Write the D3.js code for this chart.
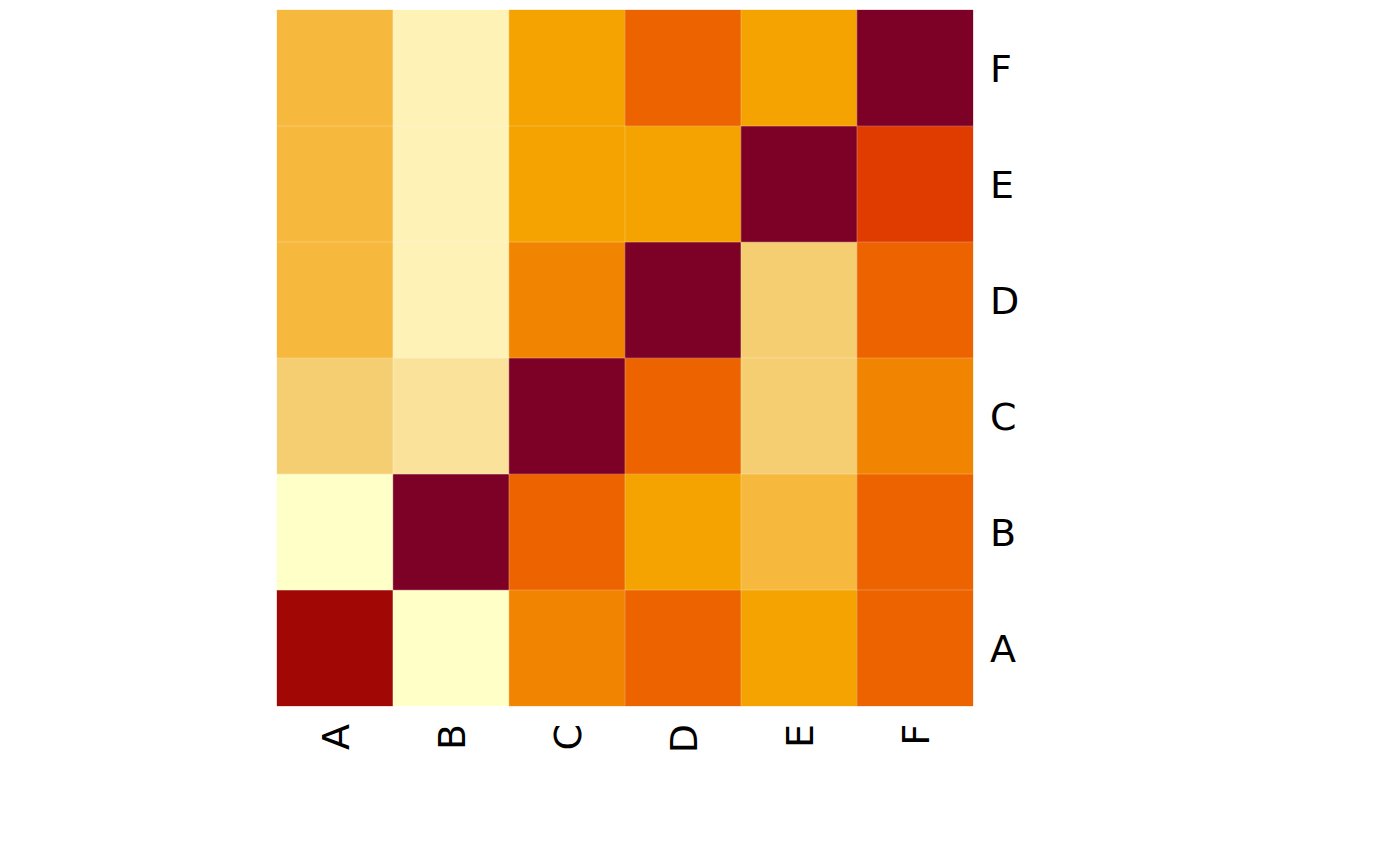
<!DOCTYPE html>
<html>
<head>
<meta charset="utf-8">
<script src="https://cdn.jsdelivr.net/npm/d3@7"></script>
<style>
  html, body { margin: 0; padding: 0; background: #ffffff; }
  svg { display: block; }
  text { font-family: "DejaVu Sans", sans-serif; }
</style>
</head>
<body>
<div id="chart"></div>
<script>
// Categories (rows listed bottom-to-top as in the figure, columns left-to-right)
const colLabels = ["A", "B", "C", "D", "E", "F"];
const rowLabels = ["A", "B", "C", "D", "E", "F"];

// Colour levels per cell (0 = lightest, 11 = darkest), one array per row
const rowA = [10, 0, 6, 7, 5, 7];
const rowB = [0, 11, 7, 5, 4, 7];
const rowC = [3, 2, 11, 7, 3, 6];
const rowD = [4, 1, 6, 11, 3, 7];
const rowE = [4, 1, 5, 5, 11, 8];
const rowF = [4, 1, 5, 7, 5, 11];
const values = [rowA, rowB, rowC, rowD, rowE, rowF];

// Palette (light to dark)
const palette = ["#FFFFC8", "#FEF2B7", "#FAE29A", "#F6CE72", "#F6B93E", "#F4A300",
                 "#F18400", "#EC6300", "#E03C00", "#C41A00", "#A00705", "#7D0026"];

const W = 1400, H = 866;
const mLeft = 277, mRight = 973, mTop = 10, mBottom = 706;

const svg = d3.select("#chart").append("svg").attr("width", W).attr("height", H);

const x = d3.scaleBand().domain(colLabels).range([mLeft, mRight]);
const y = d3.scaleBand().domain(rowLabels).range([mBottom, mTop]);
const color = d3.scaleQuantize().domain([0, 12]).range(palette);

const cells = [];
rowLabels.forEach((r, i) => colLabels.forEach((c, j) => cells.push({r, c, v: values[i][j]})));

svg.append("g").selectAll("rect").data(cells).join("rect")
  .attr("x", d => x(d.c))
  .attr("y", d => y(d.r))
  .attr("width", x.bandwidth())
  .attr("height", y.bandwidth())
  .attr("fill", d => color(d.v + 0.5))
  .attr("stroke", d => color(d.v + 0.5))
  .attr("stroke-width", 0.3);

// thin light seams between cells
const seams = svg.append("g").attr("stroke", "#ffffff").attr("stroke-opacity", 0.25).attr("stroke-width", 1);
colLabels.slice(1).forEach(c => seams.append("line").attr("x1", x(c)).attr("x2", x(c)).attr("y1", mTop).attr("y2", mBottom));
rowLabels.slice(0, -1).forEach(r => seams.append("line").attr("x1", mLeft).attr("x2", mRight).attr("y1", y(r)).attr("y2", y(r)));

// Row labels (right side)
svg.append("g").selectAll("text").data(rowLabels).join("text")
  .attr("x", mRight + 17)
  .attr("y", d => y(d) + y.bandwidth() / 2)
  .attr("dy", "0.37em")
  .attr("font-size", 38)
  .attr("fill", "#000")
  .text(d => d);

// Column labels (bottom, rotated)
svg.append("g").selectAll("text").data(colLabels).join("text")
  .attr("transform", d => `translate(${x(d) + x.bandwidth() / 2},${mBottom + 18}) rotate(-90)`)
  .attr("text-anchor", "end")
  .attr("dy", "0.37em")
  .attr("font-size", 38)
  .attr("fill", "#000")
  .text(d => d);
</script>
</body>
</html>
